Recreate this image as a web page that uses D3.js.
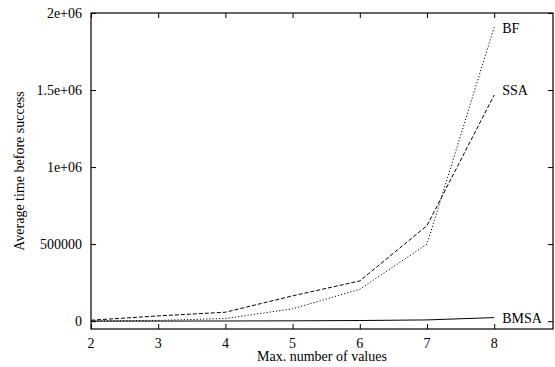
<!DOCTYPE html>
<html lang="en">
<head>
<meta charset="utf-8">
<title>Average time before success</title>
<script src="https://d3js.org/d3.v7.min.js"></script>
<style>
  body { margin: 0; background: #fff; }
  text { font-family: "Liberation Serif", "DejaVu Serif", serif; font-size: 14px; fill: #000; }
</style>
</head>
<body>
<script>
// chart values
var xValues = [2, 3, 4, 5, 6, 7, 8];
var seriesNames = ["BF", "SSA", "BMSA"];
var bfValues   = [2000, 5000, 17000, 80000, 207000, 500000, 1910000];
var ssaValues  = [6000, 34000, 58000, 164000, 261000, 620000, 1468000];
var bmsaValues = [0, 500, 1000, 2000, 4000, 8000, 23000];
var labelValues = [1900000, 1500000, 18000];
var xTicks = [2, 3, 4, 5, 6, 7, 8];
var yTicks = [0, 500000, 1000000, 1500000, 2000000];
var yTickLabels = ["0", "500000", "1e+06", "1.5e+06", "2e+06"];

var w = 555, h = 367;
// plot frame edges (note: "top" is a reserved window property, so use prefixed names)
var plotL = 91, plotR = 553, plotT = 13, plotB = 329;

var svg = d3.select("body").append("svg")
    .attr("width", w)
    .attr("height", h);

var x = d3.scaleLinear().domain([2, 8.875]).range([plotL, plotR]);
var y = d3.scaleLinear().domain([-51000, 2000000]).range([plotB, plotT]);

var tickLen = 5;

// inward ticks on all four sides (gnuplot style, mirrored)
svg.append("g")
    .attr("transform", "translate(0," + plotB + ")")
    .call(d3.axisTop(x).tickValues(xTicks).tickSize(tickLen).tickFormat(""))
    .call(g => g.select(".domain").remove());
svg.append("g")
    .attr("transform", "translate(0," + plotT + ")")
    .call(d3.axisBottom(x).tickValues(xTicks).tickSize(tickLen).tickFormat(""))
    .call(g => g.select(".domain").remove());
svg.append("g")
    .attr("transform", "translate(" + plotL + ",0)")
    .call(d3.axisRight(y).tickValues(yTicks).tickSize(tickLen).tickFormat(""))
    .call(g => g.select(".domain").remove());
svg.append("g")
    .attr("transform", "translate(" + plotR + ",0)")
    .call(d3.axisLeft(y).tickValues(yTicks).tickSize(tickLen).tickFormat(""))
    .call(g => g.select(".domain").remove());
svg.selectAll(".tick line").attr("stroke", "#000").attr("stroke-width", 1);

// tick labels
svg.append("g").selectAll("text")
  .data(xTicks)
  .join("text")
    .attr("x", d => x(d))
    .attr("y", 348)
    .attr("text-anchor", "middle")
    .text(d => d);

svg.append("g").selectAll("text")
  .data(yTicks)
  .join("text")
    .attr("x", 82)
    .attr("y", d => y(d) + 5)
    .attr("text-anchor", "end")
    .text((d, i) => yTickLabels[i]);

// frame
svg.append("rect")
    .attr("x", plotL).attr("y", plotT)
    .attr("width", plotR - plotL).attr("height", plotB - plotT)
    .attr("fill", "none").attr("stroke", "#000").attr("stroke-width", 1.2);

// axis titles
svg.append("text")
    .attr("x", (plotL + plotR) / 2)
    .attr("y", 361)
    .attr("text-anchor", "middle")
    .text("Max. number of values");

svg.append("text")
    .attr("transform", "translate(24," + ((plotT + plotB) / 2) + ") rotate(-90)")
    .attr("text-anchor", "middle")
    .text("Average time before success");

// series
var line = d3.line()
    .x((d, i) => x(xValues[i]))
    .y(d => y(d));

var allSeries = [bfValues, ssaValues, bmsaValues];
var dashes = ["1.2,2", "4,2", null];

svg.append("g").selectAll("path")
  .data(allSeries)
  .join("path")
    .attr("d", d => line(d))
    .attr("fill", "none")
    .attr("stroke", "#000")
    .attr("stroke-width", 1)
    .attr("stroke-dasharray", (d, i) => dashes[i]);

svg.append("g").selectAll("text")
  .data(seriesNames)
  .join("text")
    .attr("x", x(8) + 8)
    .attr("y", (d, i) => y(labelValues[i]) + 5)
    .text(d => d);
</script>
</body>
</html>
